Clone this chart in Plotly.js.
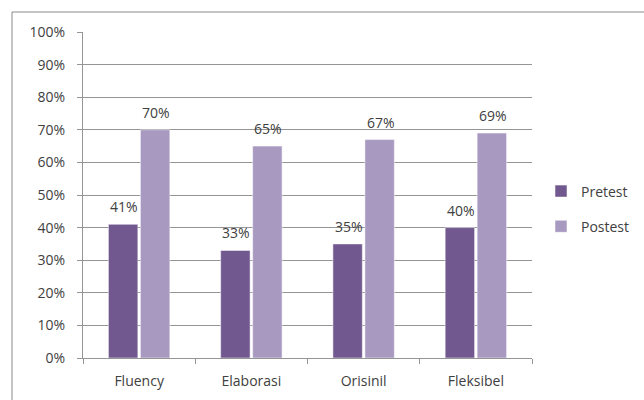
<!DOCTYPE html>
<html>
<head>
<meta charset="utf-8">
<script src="https://cdn.plot.ly/plotly-3.0.1.min.js"></script>
<style>
html,body{margin:0;padding:0;background:#fff;overflow:hidden;}
#chart{width:644px;height:400px;}
</style>
</head>
<body>
<div id="chart"></div>
<script>
const categories = ["Fluency", "Elaborasi", "Orisinil", "Fleksibel"];
const pretest = [0.41, 0.33, 0.35, 0.40];
const postest = [0.70, 0.65, 0.67, 0.69];
const seriesNames = ["Pretest", "Postest"];
const yTickValues = [0, 0.1, 0.2, 0.3, 0.4, 0.5, 0.6, 0.7, 0.8, 0.9, 1.0];

const colPre = "#71598f";
const colPost = "#a899c0";
const textCol = "#404040";
const gridCol = "#959595";
const fontFam = "'Open Sans', 'Liberation Sans', sans-serif";
const fs = 14;

const traces = [
  {type: "bar", name: seriesNames[0], x: categories, y: pretest, legendgroup: "a",
   marker: {color: colPre, line: {color: "#ffffff", width: 0.5}}, hoverinfo: "skip"},
  {type: "bar", name: seriesNames[1], x: categories, y: postest, legendgroup: "b",
   marker: {color: colPost, line: {color: "#ffffff", width: 0.5}}, hoverinfo: "skip"}
];

const annotations = [];
[pretest, postest].forEach(function (arr, si) {
  arr.forEach(function (v, i) {
    annotations.push({
      x: categories[i], y: v, xref: "x", yref: "y",
      text: Math.round(v * 100) + "%",
      showarrow: false, yanchor: "bottom",
      xshift: si === 0 ? -15 : 17, yshift: 6,
      font: {family: fontFam, size: fs, color: textCol}
    });
  });
});

const W = 449, H = 326, L = 83, T = 32;
function px(x) { return (x - L) / W; }
function py(y) { return (T + H - y) / H; }

const layout = {
  width: 644, height: 400,
  margin: {l: 83, r: 112, t: 32, b: 42, pad: 0, autoexpand: false},
  paper_bgcolor: "#ffffff", plot_bgcolor: "#ffffff",
  font: {family: fontFam, size: fs, color: textCol},
  barmode: "group", bargap: 0.43, bargroupgap: 0.08,
  showlegend: true,
  legend: {x: px(541), y: py(209), xanchor: "left", yanchor: "middle",
           font: {family: fontFam, size: fs, color: textCol},
           traceorder: "grouped", tracegroupgap: 14, itemwidth: 30},
  xaxis: {type: "category", showline: true, linecolor: gridCol, linewidth: 1,
          ticks: "outside", tickson: "boundaries", ticklen: 5, tickcolor: gridCol,
          showgrid: false, zeroline: false, ticklabelstandoff: 10,
          tickfont: {family: fontFam, size: fs, color: textCol}, fixedrange: true},
  yaxis: {range: [0, 1], tickvals: yTickValues, tickformat: ".0%",
          showline: true, linecolor: gridCol, linewidth: 1,
          ticks: "outside", ticklen: 5, tickcolor: gridCol,
          showgrid: true, gridcolor: gridCol, gridwidth: 1, zeroline: false,
          ticklabelstandoff: 9,
          tickfont: {family: fontFam, size: fs, color: textCol}, fixedrange: true},
  annotations: annotations,
  shapes: [{type: "rect", xref: "paper", yref: "paper",
            x0: px(12), x1: px(700), y0: py(460), y1: py(12),
            line: {color: "#8a8a8a", width: 1}, layer: "below"}]
};

Plotly.newPlot("chart", traces, layout, {staticPlot: true, displayModeBar: false});
</script>
</body>
</html>
